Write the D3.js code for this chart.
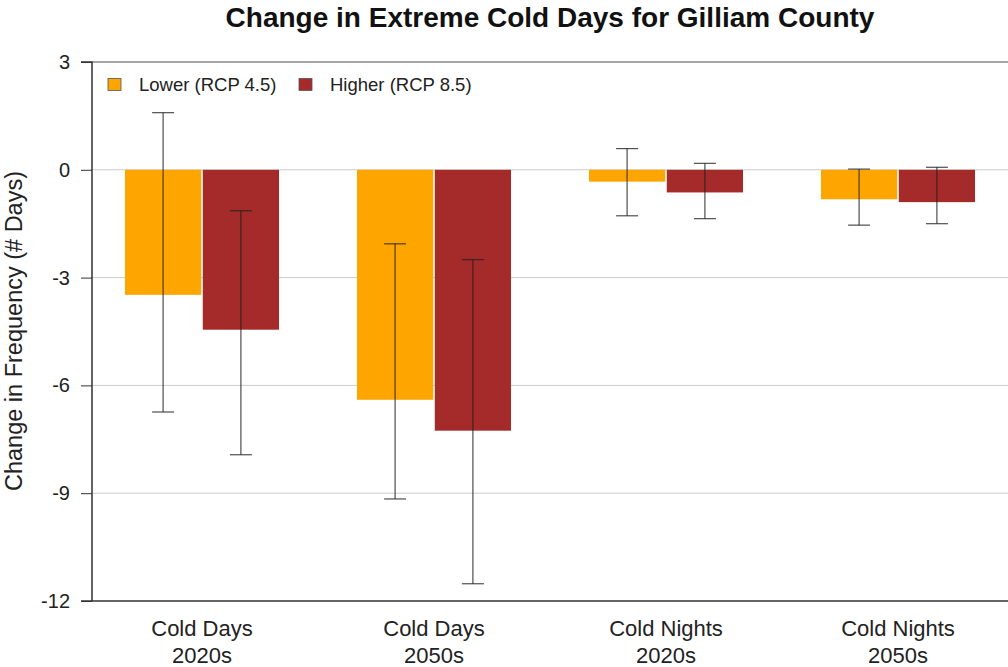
<!DOCTYPE html>
<html><head><meta charset="utf-8">
<script src="https://cdn.jsdelivr.net/npm/d3@7/dist/d3.min.js"></script>
<style>body{margin:0;background:#fff}svg{display:block;font-family:"Liberation Sans",Arial,sans-serif}</style>
</head><body><svg id="c" width="1008" height="667"></svg>
<script>
const categories = ["Cold Days|2020s","Cold Days|2050s","Cold Nights|2020s","Cold Nights|2050s"];
const seriesNames = ["Lower (RCP 4.5)","Higher (RCP 8.5)"];
const seriesColors = ["#FFA500","#A52A2A"];
const lowerValues = [-3.48,-6.40,-0.33,-0.82];
const lowerErrLow = [-6.74,-9.16,-1.28,-1.54];
const lowerErrHigh = [1.59,-2.06,0.59,0.02];
const higherValues = [-4.45,-7.26,-0.63,-0.90];
const higherErrLow = [-7.93,-11.52,-1.36,-1.50];
const higherErrHigh = [-1.14,-2.50,0.18,0.07];
const yTicks = [3,0,-3,-6,-9,-12];

const svg = d3.select("#c");
const L=92, R=1008, T=62, B=601;
const y = d3.scaleLinear().domain([-12,3]).range([B,T]);
const x = d3.scaleBand().domain(categories).range([86,1014]).paddingInner(0.336).paddingOuter(0.168);
const x1 = d3.scaleBand().domain([0,1]).range([0,x.bandwidth()]).paddingInner(0.02);

// gridlines
svg.append("g").selectAll("line").data(yTicks.filter(d=>d>-12&&d<3)).join("line")
  .attr("x1",L).attr("x2",R).attr("y1",d=>y(d)).attr("y2",d=>y(d))
  .attr("stroke","#ccc").attr("stroke-width",1);
// top border
svg.append("line").attr("x1",L).attr("x2",R).attr("y1",y(3)).attr("y2",y(3)).attr("stroke","#888").attr("stroke-width",1.5);

const data = [];
categories.forEach((c,i)=>{
  data.push({c,s:0,v:lowerValues[i],lo:lowerErrLow[i],hi:lowerErrHigh[i]});
  data.push({c,s:1,v:higherValues[i],lo:higherErrLow[i],hi:higherErrHigh[i]});
});
svg.append("g").selectAll("rect").data(data).join("rect")
  .attr("x",d=>x(d.c)+x1(d.s)).attr("width",x1.bandwidth())
  .attr("y",d=>y(Math.max(0,d.v))).attr("height",d=>Math.abs(y(d.v)-y(0)))
  .attr("fill",d=>seriesColors[d.s]);

const eb = svg.append("g").attr("stroke","#222").attr("stroke-opacity",0.8).attr("stroke-width",1.2);
data.forEach(d=>{
  const cx = x(d.c)+x1(d.s)+x1.bandwidth()/2;
  eb.append("line").attr("x1",cx).attr("x2",cx).attr("y1",y(d.hi)).attr("y2",y(d.lo));
  eb.append("line").attr("x1",cx-11).attr("x2",cx+11).attr("y1",y(d.hi)).attr("y2",y(d.hi));
  eb.append("line").attr("x1",cx-11).attr("x2",cx+11).attr("y1",y(d.lo)).attr("y2",y(d.lo));
});

// y axis
const ya = svg.append("g").attr("transform",`translate(${L},0)`)
  .call(d3.axisLeft(y).tickValues(yTicks).tickSize(11).tickPadding(11).tickFormat(d=>String(d)));
ya.select(".domain").attr("stroke","#333").attr("stroke-width",1.5).attr("d",`M-11,${T}H0V${B}`);
ya.selectAll(".tick line").attr("stroke","#333");
ya.selectAll(".tick text").attr("font-size",20).attr("fill","#222").attr("font-family","Liberation Sans, Arial, sans-serif");

// x axis
svg.append("line").attr("x1",L-11).attr("x2",R).attr("y1",B).attr("y2",B).attr("stroke","#333").attr("stroke-width",1.5);
const xl = svg.append("g").selectAll("text").data(categories).join("text")
  .attr("x",d=>x(d)+x.bandwidth()/2).attr("y",636).attr("text-anchor","middle")
  .attr("font-size",22).attr("fill","#222");
xl.append("tspan").attr("x",d=>x(d)+x.bandwidth()/2).attr("dy",0).text(d=>d.split("|")[0]);
xl.append("tspan").attr("x",d=>x(d)+x.bandwidth()/2).attr("dy",27).text(d=>d.split("|")[1]);

// title
svg.append("text").attr("x",550).attr("y",27).attr("text-anchor","middle")
  .attr("font-size",28).attr("font-weight","bold").attr("fill","#111")
  .text("Change in Extreme Cold Days for Gilliam County");

// y label
svg.append("text").attr("transform","translate(22,331) rotate(-90)").attr("text-anchor","middle")
  .attr("font-size",23.5).attr("fill","#222").text("Change in Frequency (# Days)");

// legend
const lg = svg.append("g");
const lx = [108,299];
seriesNames.forEach((n,i)=>{
  lg.append("rect").attr("x",lx[i]).attr("y",78.5).attr("width",13).attr("height",12)
    .attr("fill",seriesColors[i]).attr("stroke","#555").attr("stroke-width",0.8);
  lg.append("text").attr("x",lx[i]+31).attr("y",91).attr("font-size",18.5).attr("fill","#222").text(n);
});
</script></body></html>
